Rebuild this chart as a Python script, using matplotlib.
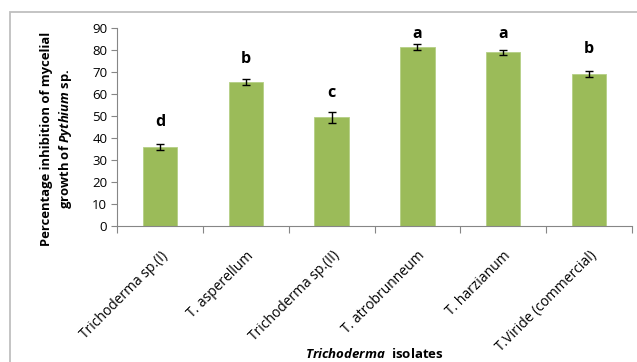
import matplotlib
matplotlib.use("Agg")
import matplotlib.pyplot as plt
from matplotlib.patches import Rectangle

categories = ["Trichoderma sp.(I)", "T. asperellum", "Trichoderma sp.(II)",
              "T. atrobrunneum", "T. harzianum", "T.Viride (commercial)"]
values = [35.9, 65.5, 49.4, 81.5, 79.0, 69.2]
errors = [1.5, 1.4, 2.5, 1.2, 1.2, 1.4]
letters = ["d", "b", "c", "a", "a", "b"]
letter_y = [45.5, 74.1, 58.6, 85.5, 85.5, 78.6]
yticks = [0, 10, 20, 30, 40, 50, 60, 70, 80, 90]

plt.rcParams['font.family'] = ['Open Sans', 'DejaVu Sans']
plt.rcParams['mathtext.fontset'] = 'custom'
plt.rcParams['mathtext.it'] = 'Open Sans:italic:bold'
plt.rcParams['mathtext.rm'] = 'Open Sans:bold'

W, H = 637, 362
fig = plt.figure(figsize=(W/100, H/100), dpi=100)
ax = fig.add_axes([117/W, 1-226/H, (632-117)/W, (226-28.3)/H])

x = list(range(len(categories)))
ax.bar(x, values, width=0.4, color="#9BBB59", edgecolor="#B5CF85", linewidth=0.6, zorder=2)
ax.errorbar(x, values, yerr=errors, fmt='none', ecolor='black', elinewidth=1.0,
            capsize=3.2, capthick=1.0, zorder=3)
for xi, l, ly in zip(x, letters, letter_y):
    ax.text(xi, ly, l, ha='center', va='baseline', fontsize=11.5, fontweight='bold')

ax.set_xlim(-0.5, len(categories) - 0.5)
ax.set_ylim(0, 90)
ax.set_yticks(yticks)
ax.tick_params(axis='y', labelsize=9.5, length=4, color='#868686', width=0.8, pad=3)
ax.set_xticks([i - 0.5 for i in range(len(categories) + 1)], minor=False)
ax.set_xticklabels([])
ax.set_xticks(x, minor=True)
ax.set_xticklabels(categories, minor=True, rotation=45, ha='right', va='top',
                   rotation_mode='anchor', fontsize=10)
ax.tick_params(axis='x', which='major', length=5, color='#868686', width=0.8)
ax.tick_params(axis='x', which='minor', length=0, pad=16)
for s in ['top', 'right']:
    ax.spines[s].set_visible(False)
for s in ['left', 'bottom']:
    ax.spines[s].set_color('#868686')
    ax.spines[s].set_linewidth(0.8)

fig.text(57/W, 1-139/H,
         "Percentage inhibition of mycelial\ngrowth of $\\mathit{Pythium}$ sp.",
         rotation=90, ha='center', va='center', fontsize=9.4, fontweight='bold',
         linespacing=1.3)
fig.text(374/W, 1-358/H, "$\\mathit{Trichoderma}$  isolates", ha='center', va='baseline',
         fontsize=9.5, fontweight='bold')

fig.patches.append(Rectangle((10/W, -0.1), 1.2, 1.1 - 12/H, transform=fig.transFigure,
                             fill=False, edgecolor='#BFBFBF', linewidth=1.3))

fig.savefig("out.png", dpi=100)
